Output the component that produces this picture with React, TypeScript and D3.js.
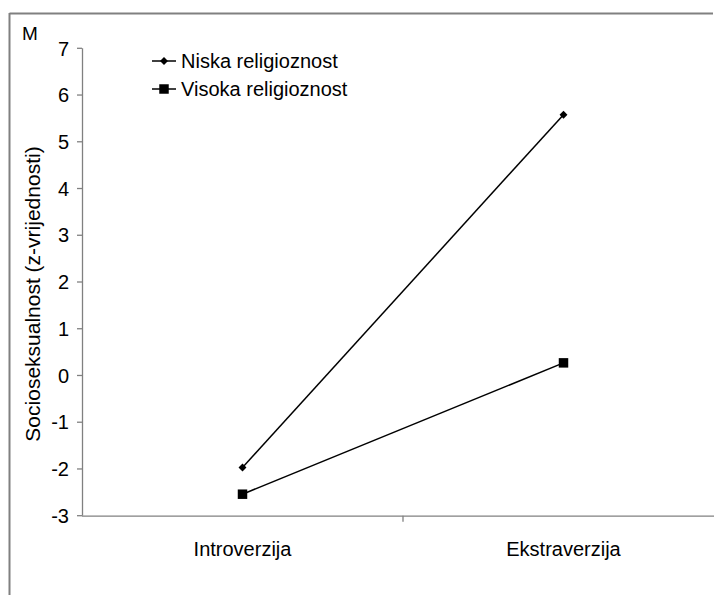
import React, { useEffect, useRef } from 'react';
import * as d3 from 'd3';

const categories = ['Introverzija', 'Ekstraverzija'];
const niska = [-1.97, 5.58];
const visoka = [-2.54, 0.27];
const yTicks = [-3, -2, -1, 0, 1, 2, 3, 4, 5, 6, 7];
const seriesNames = ['Niska religioznost', 'Visoka religioznost'];

const W = 714;
const H = 595;
const FONT = '"Liberation Sans", Arial, sans-serif';

export default function App() {
  const svgRef = useRef<SVGSVGElement>(null);

  useEffect(() => {
    if (!svgRef.current) return;
    const svg = d3.select(svgRef.current);
    svg.selectAll('*').remove();

    // frame (cropped: only top and left edges visible)
    svg.append('line').attr('x1', 9.5).attr('x2', 713).attr('y1', 13.5).attr('y2', 13.5)
      .attr('stroke', '#808080').attr('stroke-width', 2);
    svg.append('line').attr('x1', 9.5).attr('x2', 9.5).attr('y1', 13).attr('y2', H)
      .attr('stroke', '#808080').attr('stroke-width', 2);

    const left = 82;
    const y = d3.scaleLinear().domain([-3, 7]).range([515.7, 48.3]);
    const x = d3.scaleBand<string>().domain(categories).range([left, 724]);
    const cx = (c: string) => (x(c) as number) + x.bandwidth() / 2;

    // y axis
    svg.append('line').attr('x1', left + 0.5).attr('x2', left + 0.5)
      .attr('y1', y(7)).attr('y2', y(-3)).attr('stroke', '#808080').attr('stroke-width', 1.3);
    const yg = svg.append('g');
    yTicks.forEach((t) => {
      yg.append('line').attr('x1', left - 5).attr('x2', left)
        .attr('y1', y(t)).attr('y2', y(t)).attr('stroke', '#808080').attr('stroke-width', 1.3);
      yg.append('text').attr('x', 69).attr('y', y(t)).attr('dy', '0.36em')
        .attr('text-anchor', 'end').attr('font-family', FONT).attr('font-size', 20)
        .text(String(t));
    });

    // x axis
    svg.append('line').attr('x1', left).attr('x2', 714)
      .attr('y1', y(-3) + 0.5).attr('y2', y(-3) + 0.5).attr('stroke', '#808080').attr('stroke-width', 1.3);
    categories.forEach((c, i) => {
      if (i > 0) {
        const bx = x(c) as number;
        svg.append('line').attr('x1', bx).attr('x2', bx)
          .attr('y1', y(-3)).attr('y2', y(-3) + 6).attr('stroke', '#808080').attr('stroke-width', 1.3);
      }
      svg.append('text').attr('x', cx(c)).attr('y', 556)
        .attr('text-anchor', 'middle').attr('font-family', FONT).attr('font-size', 20)
        .text(c);
    });

    const line = d3.line<number>().x((_, i) => cx(categories[i])).y((d) => y(d));
    const diamond = d3.symbol().type(d3.symbolDiamond2).size(40);
    const square = d3.symbol().type(d3.symbolSquare).size(90);

    const drawSeries = (vals: number[], sym: d3.Symbol<any, any>) => {
      svg.append('path').datum(vals).attr('d', line).attr('fill', 'none')
        .attr('stroke', '#000').attr('stroke-width', 1.5);
      vals.forEach((v, i) => {
        svg.append('path').attr('d', sym()!)
          .attr('transform', `translate(${cx(categories[i])},${y(v)})`).attr('fill', '#000');
      });
    };
    drawSeries(niska, diamond);
    drawSeries(visoka, square);

    // legend
    const legendSyms = [diamond, square];
    seriesNames.forEach((name, i) => {
      const ly = 61 + i * 28;
      svg.append('line').attr('x1', 152).attr('x2', 176).attr('y1', ly).attr('y2', ly)
        .attr('stroke', '#000').attr('stroke-width', 1.5);
      svg.append('path').attr('d', legendSyms[i]()!)
        .attr('transform', `translate(164,${ly})`).attr('fill', '#000');
      svg.append('text').attr('x', 181).attr('y', ly).attr('dy', '0.36em')
        .attr('font-family', FONT).attr('font-size', 20).text(name);
    });

    // axis titles
    svg.append('text').attr('x', 22).attr('y', 40)
      .attr('font-family', FONT).attr('font-size', 19).text('M');
    svg.append('text').attr('transform', `translate(40,294) rotate(-90)`)
      .attr('text-anchor', 'middle').attr('font-family', FONT).attr('font-size', 21)
      .text('Socioseksualnost (z-vrijednosti)');
  }, []);

  return (
    <div style={{ position: 'absolute', left: 0, top: 0 }}>
      <svg ref={svgRef} width={W} height={H} style={{ display: 'block', background: '#fff' }} />
    </div>
  );
}
